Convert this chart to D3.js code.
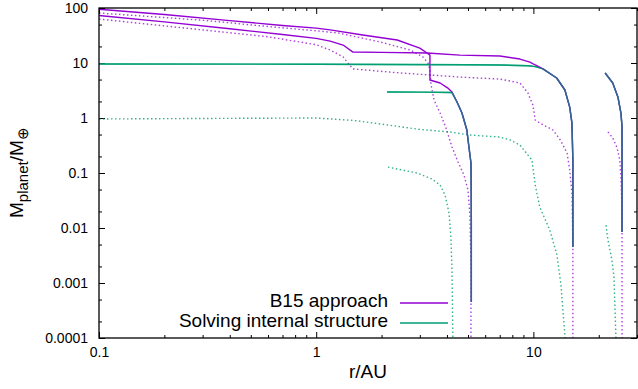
<!DOCTYPE html>
<html>
<head>
<meta charset="utf-8">
<script src="https://cdn.jsdelivr.net/npm/d3@7"></script>
<style>
  body { margin: 0; background: #fff; }
  svg { display: block; font-family: "Liberation Sans", Arial, sans-serif; }
  .tick text { font-size: 14px; fill: #000; }
  .tick line { stroke: #000; stroke-width: 1; }
</style>
</head>
<body>
<div id="chart"></div>
<script>
// r in AU, mass in Earth masses

// shared descending branches (B15 and internal structure coincide there)
const descentInner = [[4.45, 1.95], [4.69, 1.23], [4.94, 0.605], [5.05, 0.297], [5.16, 0.152],
  [5.17, 0.074], [5.18, 0.014], [5.18, 0.0026], [5.18, 0.00045]];
const descentMid = [[11.07, 7.8], [12.8, 5.34], [13.97, 3.23], [14.7, 1.58], [15.05, 0.81],
  [15.2, 0.172], [15.2, 0.032], [15.2, 0.0045]];
const descentOuter = [[21.4, 6.58], [23.2, 4.33], [24.5, 2.41], [25.3, 1.23], [25.6, 0.69],
  [25.6, 0.0746], [25.6, 0.0085]];

// B15 approach, planet mass (solid purple)
const b15MassA = [[0.1, 95], [0.2, 76], [0.4, 59], [0.7, 48], [1.0, 43], [1.16, 40], [1.64, 32.3],
  [2.36, 26.2], [3.0, 18.7], [3.24, 15.2], [3.34, 13.9], [3.34, 4.9], [3.72, 4.33], [4.04, 3.5],
  [4.22, 2.97]].concat(descentInner);
const b15MassB = [[0.1, 73], [0.2, 56], [0.4, 42], [0.7, 33], [1.0, 28], [1.16, 25], [1.33, 21.2],
  [1.476, 15.8], [2.0, 15.6], [3.24, 15.2], [4.59, 13.9], [7.01, 13.4], [8.67, 11.8], [9.64, 10.4],
  [10.2, 9.2]].concat(descentMid);
const b15MassC = descentOuter;

// B15 approach, dotted purple
const b15DotA = [[0.1, 81], [0.3, 60], [0.6, 46], [1.0, 38.5], [1.27, 35], [1.97, 24.1], [2.71, 17.2],
  [3.10, 12.9], [3.27, 10], [3.34, 7.46], [3.38, 3.98], [3.49, 2.12], [3.72, 1.23], [3.96, 0.658],
  [4.22, 0.297], [4.50, 0.158], [4.79, 0.092], [5.0, 0.049], [5.1, 0.0174], [5.16, 0.0026], [5.16, 0.0001]];
const b15DotB = [[0.1, 63], [0.3, 40], [0.6, 30], [1.0, 21.5], [1.16, 17.2], [1.33, 12.9], [1.40, 10],
  [1.476, 7.8], [2.43, 6.6], [4.59, 5.55], [7.01, 5.1], [8.67, 4.33], [9.44, 2.85], [9.95, 1.72],
  [10.2, 0.92], [10.7, 0.81], [12.3, 0.605], [13.3, 0.40], [14.3, 0.23], [14.7, 0.113], [15.05, 0.043],
  [15.2, 0.0045], [15.2, 0.0001]];
const b15DotC = [[22.05, 0.557], [23.2, 0.433], [24.3, 0.285], [25.0, 0.172], [25.3, 0.0846],
  [25.6, 0.0212], [25.6, 0.0001]];

// Solving internal structure, solid green
const isMass1 = [[0.1, 9.6], [1.0, 9.5], [5.0, 9.3], [7.01, 9.2], [9.5, 8.9], [10.2, 8.6]].concat(descentMid);
const isMass2 = [[2.12, 2.97], [3.0, 2.95], [4.22, 2.9]].concat(descentInner);
const isMass3 = descentOuter;

// Solving internal structure, dotted green
const isDot1 = [[0.1, 0.96], [0.29, 0.98], [1.0, 1.0], [1.5, 0.9], [1.97, 0.78], [3.0, 0.62],
  [4.13, 0.557], [5.1, 0.49], [7.01, 0.45], [7.8, 0.40], [8.67, 0.323], [9.85, 0.172], [10.2, 0.0605],
  [10.7, 0.024], [11.9, 0.0092], [12.85, 0.0032], [13.4, 0.00092], [14.0, 0.0001]];
const isDot2 = [[2.14, 0.128], [2.91, 0.1], [3.41, 0.078], [3.72, 0.0605], [3.92, 0.0398], [4.09, 0.0187],
  [4.17, 0.00686], [4.22, 0.00172], [4.26, 0.0001]];
const isDot3 = [[21.6, 0.0113], [22.05, 0.00605], [23.0, 0.0026], [23.5, 0.00129], [24.0, 0.0001]];

const xTickValues = [0.1, 1, 10];
const xTickLabels = ["0.1", "1", "10"];
const yTickValues = [0.0001, 0.001, 0.01, 0.1, 1, 10, 100];
const yTickLabels = ["0.0001", "0.001", "0.01", "0.1", "1", "10", "100"];
const legendLabels = ["B15 approach", "Solving internal structure"];

const PURPLE = "#9400d3";
const GREEN = "#009e73";

const W = 638, H = 389;
const plot = { left: 99, right: 637, top: 8, bottom: 338 };

const svg = d3.select("#chart").append("svg").attr("width", W).attr("height", H);

const x = d3.scaleLog().domain([0.1, 30]).range([plot.left, plot.right]);
const y = d3.scaleLog().domain([1e-4, 100]).range([plot.bottom, plot.top]);

// minor ticks: 2..9 per decade on x, 2 and 5 per decade on y
const xMinor = [];
[0.1, 1, 10].forEach((d) => { for (let k = 2; k <= 9; k++) if (d * k <= 30) xMinor.push(d * k); });
const yMinor = [];
[1e-4, 1e-3, 1e-2, 1e-1, 1, 10].forEach((d) => { yMinor.push(d * 2, d * 5); });

const fmt = (vals, labels) => (d) => labels[vals.indexOf(d)];

const axes = svg.append("g");
axes.append("g").attr("transform", `translate(0,${plot.bottom})`)
  .call(d3.axisBottom(x).tickValues(xTickValues).tickFormat(fmt(xTickValues, xTickLabels))
    .tickSize(-6).tickPadding(9));
axes.append("g").attr("transform", `translate(0,${plot.bottom})`)
  .call(d3.axisBottom(x).tickValues(xMinor).tickFormat("").tickSize(-3));
axes.append("g").attr("transform", `translate(0,${plot.top})`)
  .call(d3.axisTop(x).tickValues(xTickValues).tickFormat("").tickSize(-6));
axes.append("g").attr("transform", `translate(0,${plot.top})`)
  .call(d3.axisTop(x).tickValues(xMinor).tickFormat("").tickSize(-3));
axes.append("g").attr("transform", `translate(${plot.left},0)`)
  .call(d3.axisLeft(y).tickValues(yTickValues).tickFormat(fmt(yTickValues, yTickLabels))
    .tickSize(-6).tickPadding(11));
axes.append("g").attr("transform", `translate(${plot.left},0)`)
  .call(d3.axisLeft(y).tickValues(yMinor).tickFormat("").tickSize(-3));
axes.append("g").attr("transform", `translate(${plot.right},0)`)
  .call(d3.axisRight(y).tickValues(yTickValues).tickFormat("").tickSize(-6));
axes.append("g").attr("transform", `translate(${plot.right},0)`)
  .call(d3.axisRight(y).tickValues(yMinor).tickFormat("").tickSize(-3));
axes.selectAll(".domain").remove();

svg.append("clipPath").attr("id", "clip").append("rect")
  .attr("x", plot.left).attr("y", plot.top)
  .attr("width", plot.right - plot.left).attr("height", plot.bottom - plot.top);

const line = d3.line().x((d) => x(d[0])).y((d) => y(d[1]));
const curves = svg.append("g").attr("clip-path", "url(#clip)")
  .attr("fill", "none").attr("stroke-width", 1.4).attr("stroke-linejoin", "round");

function draw(series, color, dotted, opacity = 1) {
  curves.selectAll(null).data(series).enter().append("path")
    .attr("d", line)
    .attr("stroke", color)
    .attr("stroke-opacity", opacity)
    .attr("stroke-dasharray", dotted ? "1.5,2.5" : null);
}

draw([isDot1, isDot2, isDot3], GREEN, true, 0.8);
draw([b15DotA, b15DotB, b15DotC], PURPLE, true, 0.75);
draw([isMass1, isMass2, isMass3], GREEN, false);
draw([b15MassA, b15MassB, b15MassC], PURPLE, false);
// overlapping branches blend into blue
draw([isMass1, isMass2, isMass3], GREEN, false, 0.62);

// frame
svg.append("rect")
  .attr("x", plot.left).attr("y", plot.top)
  .attr("width", plot.right - plot.left).attr("height", plot.bottom - plot.top)
  .attr("fill", "none").attr("stroke", "#000").attr("stroke-width", 1.3);

// legend
const legend = svg.append("g").attr("font-size", 19);
[PURPLE, GREEN].forEach((c, i) => {
  const yy = 303 + i * 20;
  legend.append("text").attr("x", 388).attr("y", yy + 4).attr("text-anchor", "end")
    .text(legendLabels[i]);
  legend.append("line").attr("x1", 400).attr("x2", 448).attr("y1", yy).attr("y2", yy)
    .attr("stroke", c).attr("stroke-width", 1.4);
});

// axis titles
svg.append("text").attr("x", (plot.left + plot.right) / 2).attr("y", 378)
  .attr("text-anchor", "middle").attr("font-size", 19).text("r/AU");

const yt = svg.append("text").attr("transform", "translate(23,218) rotate(-90)")
  .attr("font-size", 19);
yt.append("tspan").text("M");
yt.append("tspan").attr("font-size", 15).attr("dy", 5).text("planet");
yt.append("tspan").attr("dy", -5).text("/M");
yt.append("tspan").attr("font-size", 15).attr("dy", 5).text("⊕");
</script>
</body>
</html>
